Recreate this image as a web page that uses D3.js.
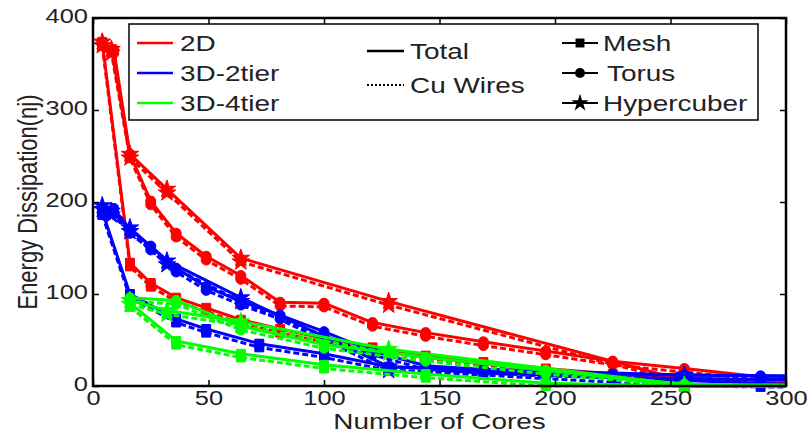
<!DOCTYPE html>
<html>
<head>
<meta charset="utf-8">
<script src="https://cdn.jsdelivr.net/npm/d3@7/dist/d3.min.js"></script>
<style>
  body { margin: 0; background: #fff; }
  svg text { font-family: "Liberation Sans", Arial, sans-serif; fill: #222; }
</style>
</head>
<body>
<svg id="chart" width="809" height="443"></svg>
<script>
'use strict';

/* Data: cores, total energy, Cu wire energy */

var xTicks = [0, 50, 100, 150, 200, 250, 300],
    yTicks = [0, 100, 200, 300, 400];

var tierNames = ['2D', '3D-2tier', '3D-4tier'],
    tierColors = ['#ff0000', '#0000ff', '#00ff00'],
    kindNames = ['Total', 'Cu Wires'],
    topoNames = ['Mesh', 'Torus', 'Hypercuber'];

// 2D
var cores2DMesh  = [4, 16, 25, 36, 49, 64, 81, 100, 121, 144, 169, 196, 225, 256, 289, 300];
var total2DMesh  = [374, 134, 112, 96, 85, 72, 62, 52, 42, 33, 26, 19, 13, 9, 6, 5];
var cu2DMesh     = [370, 130, 108, 92, 81, 68, 58, 48, 39, 30, 23, 16, 10, 7, 4, 3];
var cores2DTorus = [9, 16, 25, 36, 49, 64, 81, 100, 121, 144, 169, 196, 225, 256, 289, 300];
var total2DTorus = [366, 252, 201, 166, 141, 120, 91, 90, 69, 58, 48, 38, 27, 19, 10, 8];
var cu2DTorus    = [362, 248, 197, 162, 137, 116, 87, 86, 65, 54, 44, 34, 23, 15, 7, 5];
var cores2DHyper = [4, 8, 16, 32, 64, 128, 256];
var total2DHyper = [374, 366, 252, 214, 139, 92, 6];
var cu2DHyper    = [370, 362, 248, 210, 135, 88, 3];

// 3D-2tier
var cores2tMesh  = [4, 16, 36, 49, 72, 100, 128, 169, 196, 225, 256, 289, 300];
var total2tMesh  = [190, 100, 73, 62, 46, 35, 21, 16, 12, 9, 6, 3, 2];
var cu2tMesh     = [186, 96, 69, 58, 42, 31, 17, 12, 8, 4, 0, -1, -1];
var cores2tTorus = [9, 16, 25, 36, 49, 64, 81, 100, 121, 144, 169, 196, 225, 256, 289, 300];
var total2tTorus = [193, 170, 152, 128, 108, 92, 77, 59, 38, 22, 18, 15, 13, 12, 11, 11];
var cu2tTorus    = [189, 166, 148, 124, 104, 88, 73, 55, 34, 18, 14, 11, 9, 8, 7, 7];
var cores2tHyper = [4, 8, 16, 32, 64, 128, 256, 300];
var total2tHyper = [196, 190, 172, 136, 96, 21, 12, 11];
var cu2tHyper    = [192, 186, 168, 132, 92, 17, 8, 7];

// 3D-4tier
var cores4tMesh  = [16, 36, 64, 100, 144, 196, 256, 300];
var total4tMesh  = [90, 49, 35, 23, 13, 3, 0, 0];
var cu4tMesh     = [86, 45, 31, 19, 9, 0, 0, 0];
var cores4tTorus = [16, 36, 64, 100, 144, 196, 256, 300];
var total4tTorus = [96, 93, 65, 45, 31, 17, 2, 1];
var cu4tTorus    = [92, 89, 61, 41, 27, 13, 0, 0];
var cores4tHyper = [16, 32, 64, 128, 256, 300];
var total4tHyper = [93, 82, 70, 40, 1, 0];
var cu4tHyper    = [89, 78, 66, 36, 0, 0];

function series(tier, topo, cores, total, cu) {
  return [
    { tier: tier, topo: topo, kind: 1, points: d3.zip(cores, cu) },
    { tier: tier, topo: topo, kind: 0, points: d3.zip(cores, total) }
  ];
}

var allSeries = [].concat(
  series(0, 0, cores2DMesh, total2DMesh, cu2DMesh),
  series(0, 1, cores2DTorus, total2DTorus, cu2DTorus),
  series(0, 2, cores2DHyper, total2DHyper, cu2DHyper),
  series(1, 0, cores2tMesh, total2tMesh, cu2tMesh),
  series(1, 1, cores2tTorus, total2tTorus, cu2tTorus),
  series(1, 2, cores2tHyper, total2tHyper, cu2tHyper),
  series(2, 0, cores4tMesh, total4tMesh, cu4tMesh),
  series(2, 1, cores4tTorus, total4tTorus, cu4tTorus),
  series(2, 2, cores4tHyper, total4tHyper, cu4tHyper)
);

var margin = { left: 93, top: 18, right: 23, bottom: 57 },
    width = 809 - margin.left - margin.right,
    height = 443 - margin.top - margin.bottom,
    stretch = 1.27;   // the figure's text is wider than it is tall

var x = d3.scaleLinear().domain([0, 300]).range([0, width]),
    y = d3.scaleLinear().domain([0, 400]).range([height, 0]);

var symbols = [d3.symbolSquare, d3.symbolCircle, d3.symbolStar],
    symbolSizes = [80, 80, 95];

var svg = d3.select('#chart'),
    g = svg.append('g').attr('transform', 'translate(' + margin.left + ',' + margin.top + ')');

function label(parent, tx, ty, txt, size) {
  return parent.append('text')
    .attr('transform', 'translate(' + tx + ',' + ty + ') scale(' + stretch + ',1)')
    .style('font-size', size + 'px')
    .text(txt);
}

var plot = g.append('g');
plot.append('clipPath').attr('id', 'clip')
  .append('rect').attr('x', -6).attr('y', -6).attr('width', width + 12).attr('height', height + 12);

var line = d3.line()
  .x(function(d) { return x(d[0]); })
  .y(function(d) { return y(d[1]); });

var lines = plot.append('g').attr('clip-path', 'url(#clip)');

allSeries.forEach(function(s) {
  var col = tierColors[s.tier];
  lines.append('path')
    .datum(s.points)
    .attr('d', line)
    .attr('fill', 'none')
    .attr('stroke', col)
    .attr('stroke-width', 3)
    .attr('stroke-linejoin', 'round')
    .attr('stroke-dasharray', s.kind === 1 ? '6,3' : null);

  lines.selectAll(null)
    .data(s.points.filter(function(d) { return d[0] < 300; }))
    .enter().append('path')
    .attr('transform', function(d) { return 'translate(' + x(d[0]) + ',' + y(d[1]) + ')'; })
    .attr('d', d3.symbol().type(symbols[s.topo]).size(symbolSizes[s.topo]))
    .attr('fill', col)
    .attr('stroke', col)
    .attr('stroke-width', 1);
});

// frame and inward ticks on all sides
g.append('rect')
  .attr('width', width).attr('height', height)
  .attr('fill', 'none').attr('stroke', '#000').attr('stroke-width', 2.5);

function ticks(axis) {
  return function(sel) {
    sel.call(axis);
    sel.select('.domain').remove();
    sel.selectAll('.tick line').attr('stroke', '#000').attr('stroke-width', 1.5);
    sel.selectAll('.tick text')
      .attr('fill', '#222')
      .attr('transform', 'scale(' + stretch + ',1)')
      .style('font-size', '20px');
  };
}

g.append('g').attr('transform', 'translate(0,' + height + ')')
  .call(ticks(d3.axisBottom(x).tickValues(xTicks).tickSizeInner(-6).tickSizeOuter(0).tickPadding(5)));
g.append('g')
  .call(ticks(d3.axisTop(x).tickValues(xTicks).tickSizeInner(-6).tickSizeOuter(0).tickFormat('')));
g.append('g')
  .call(ticks(d3.axisLeft(y).tickValues(yTicks).tickSizeInner(-6).tickSizeOuter(0).tickPadding(4)))
  .selectAll('.tick text').attr('dy', '0.2em');
g.append('g').attr('transform', 'translate(' + width + ',0)')
  .call(ticks(d3.axisRight(y).tickValues(yTicks).tickSizeInner(-6).tickSizeOuter(0).tickFormat('')));

label(svg, margin.left + width / 2, 429, 'Number of Cores', 22)
  .attr('text-anchor', 'middle');

svg.append('text')
  .attr('transform', 'translate(37,' + (margin.top + height / 2) + ') rotate(-90) scale(1,' + stretch + ')')
  .attr('text-anchor', 'middle').style('font-size', '22px')
  .text('Energy Dissipation(nj)');

// legend
var legend = svg.append('g');
legend.append('rect')
  .attr('x', 129).attr('y', 24).attr('width', 629).attr('height', 96)
  .attr('fill', '#fff').attr('stroke', '#000').attr('stroke-width', 1.5);

tierNames.forEach(function(name, i) {
  var ly = 43 + i * 30;
  legend.append('line')
    .attr('x1', 137).attr('x2', 173).attr('y1', ly).attr('y2', ly)
    .attr('stroke', tierColors[i]).attr('stroke-width', 2.5);
  label(legend, 180, ly + 8, name, 22);
});

kindNames.forEach(function(name, i) {
  var ly = 51 + i * 34;
  legend.append('line')
    .attr('x1', 367).attr('x2', 404).attr('y1', ly).attr('y2', ly)
    .attr('stroke', '#000').attr('stroke-width', i === 0 ? 2.5 : 2)
    .attr('stroke-dasharray', i === 0 ? null : '2,2');
  label(legend, 410, ly + 8, name, 22);
});

topoNames.forEach(function(name, i) {
  var ly = 43 + i * 30;
  legend.append('line')
    .attr('x1', 562).attr('x2', 598).attr('y1', ly).attr('y2', ly)
    .attr('stroke', '#000').attr('stroke-width', 2);
  legend.append('path')
    .attr('transform', 'translate(580,' + ly + ')')
    .attr('d', d3.symbol().type(symbols[i]).size(symbolSizes[i]))
    .attr('fill', '#000');
  label(legend, i === 1 ? 607 : 603, ly + 8, name, 22);
});
</script>
</body>
</html>
